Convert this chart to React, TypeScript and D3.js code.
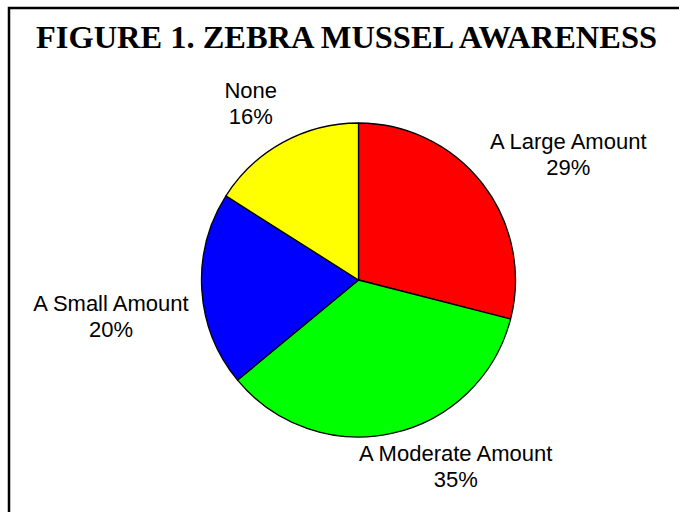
import React from 'react'
import * as d3 from 'd3'

const categories = ['A Large Amount', 'A Moderate Amount', 'A Small Amount', 'None']
const percents = [29, 35, 20, 16]
const sliceColors = ['#ff0000', '#00ff00', '#0000ff', '#ffff00']
// label nudges away from the plain centroid, like Excel places them
const labelNudge: [number, number][] = [[28, 15], [47, -38], [-18, 22], [3, 25]]

const W = 679
const H = 512
const cx = 358.5
const cy = 280
const radius = 157

const App: React.FC = () => {
  const pie = d3.pie<number>().sort(null).value(d => d)
  const arcs = pie(percents)
  const arc = d3.arc<d3.PieArcDatum<number>>().innerRadius(0).outerRadius(radius)
  const labelArc = d3.arc<d3.PieArcDatum<number>>().innerRadius(230).outerRadius(230)

  return (
    <svg width={W} height={H} style={{ position: 'absolute', left: 0, top: 0, background: '#fff' }}>
      <rect x={9} y={8} width={W + 20} height={H + 20} fill="none" stroke="#000" strokeWidth={2.5} />
      <text
        x={346.5}
        y={48}
        textAnchor="middle"
        fontFamily="'Liberation Serif', 'Times New Roman', serif"
        fontWeight="bold"
        fontSize={32}
        textLength={621}
        lengthAdjust="spacingAndGlyphs"
        fill="#000"
      >
        FIGURE 1. ZEBRA MUSSEL AWARENESS
      </text>
      <g transform={`translate(${cx},${cy})`}>
        {arcs.map((a, i) => (
          <path key={categories[i]} d={arc(a) || ''} fill={sliceColors[i]} stroke="#000" strokeWidth={1.3} strokeLinejoin="round" />
        ))}
        {arcs.map((a, i) => {
          const [lx, ly] = labelArc.centroid(a)
          const x = lx + labelNudge[i][0]
          const y = ly + labelNudge[i][1]
          return (
            <text
              key={'lbl' + i}
              x={x}
              y={y - 5}
              textAnchor="middle"
              fontFamily="'Liberation Sans', Arial, sans-serif"
              fontSize={22}
              fill="#000"
            >
              <tspan x={x}>{categories[i]}</tspan>
              <tspan x={x} dy={26}>{percents[i]}%</tspan>
            </text>
          )
        })}
      </g>
    </svg>
  )
}

export default App
